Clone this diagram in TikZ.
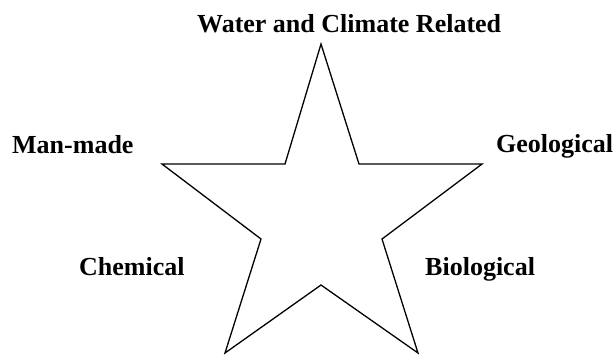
\documentclass[tikz,border=0pt]{standalone}
\usepackage{fontspec}
\setmainfont{Liberation Serif}
\usepackage{tikz}

\begin{document}
\begin{tikzpicture}[
  x=1pt, y=-1pt,
  cat/.style={font=\fontsize{26}{30}\selectfont\bfseries, inner sep=0pt, anchor=base west},
  starline/.style={draw=black, line width=1.3pt, line join=miter},
]
\useasboundingbox (0,0) rectangle (616,354);

% ======================= star =======================
\coordinate (top) at (321,44);
\coordinate (tr)  at (359,164);
\coordinate (rt)  at (482,164);
\coordinate (rin) at (382,239);
\coordinate (br)  at (418,353);
\coordinate (bin) at (321,285);
\coordinate (bl)  at (225,353);
\coordinate (lin) at (261,239);
\coordinate (lt)  at (162,164);
\coordinate (tl)  at (285,164);
\draw[starline] (top) -- (tr) -- (rt) -- (rin) -- (br) -- (bin)
  -- (bl) -- (lin) -- (lt) -- (tl) -- cycle;

% ======================= labels =======================
\node[cat] (water) at (197,32)  {Water and Climate Related};
\node[cat] (man)   at (12,153)  {Man-made};
\node[cat] (geo)   at (496,152) {Geological};
\node[cat] (chem)  at (79,275)  {Chemical};
\node[cat] (bio)   at (425,275) {Biological};
\end{tikzpicture}
\end{document}
